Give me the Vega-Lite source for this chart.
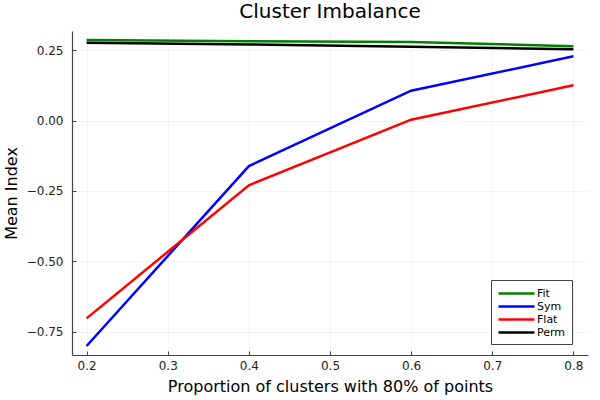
{
  "$schema": "https://vega.github.io/schema/vega-lite/v6.json",
  "autosize": {"type": "none"},
  "padding": {"left": 72, "top": 31, "right": 12, "bottom": 45},
  "width": 516,
  "height": 324,
  "background": "white",
  "title": {
    "text": "Cluster Imbalance",
    "font": "DejaVu Sans",
    "fontSize": 20,
    "fontWeight": "normal",
    "color": "black",
    "anchor": "middle",
    "offset": 9
  },
  "config": {
    "view": {"stroke": null},
    "axis": {
      "labelFont": "DejaVu Sans",
      "labelFontSize": 12,
      "labelColor": "#222",
      "titleFont": "DejaVu Sans",
      "titleFontSize": 16,
      "titleFontWeight": "normal",
      "titleColor": "black",
      "domainColor": "#444",
      "domainWidth": 1.2,
      "tickColor": "#444",
      "tickSize": -4,
      "gridColor": "#000",
      "gridOpacity": 0.08,
      "gridWidth": 0.6
    }
  },
  "data": {
    "values": [
      {"p": 0.2, "series": "Fit", "value": 0.286},
      {"p": 0.4, "series": "Fit", "value": 0.282},
      {"p": 0.6, "series": "Fit", "value": 0.279},
      {"p": 0.8, "series": "Fit", "value": 0.264},
      {"p": 0.2, "series": "Sym", "value": -0.801},
      {"p": 0.4, "series": "Sym", "value": -0.162},
      {"p": 0.6, "series": "Sym", "value": 0.106},
      {"p": 0.8, "series": "Sym", "value": 0.228},
      {"p": 0.2, "series": "Flat", "value": -0.703},
      {"p": 0.4, "series": "Flat", "value": -0.23},
      {"p": 0.6, "series": "Flat", "value": 0.003},
      {"p": 0.8, "series": "Flat", "value": 0.125},
      {"p": 0.2, "series": "Perm", "value": 0.276},
      {"p": 0.4, "series": "Perm", "value": 0.27},
      {"p": 0.6, "series": "Perm", "value": 0.262},
      {"p": 0.8, "series": "Perm", "value": 0.253}
    ]
  },
  "mark": {"type": "line", "strokeWidth": 2.5, "clip": true},
  "encoding": {
    "x": {
      "field": "p",
      "type": "quantitative",
      "title": "Proportion of clusters with 80% of points",
      "scale": {"domain": [0.182, 0.818], "nice": false, "zero": false},
      "axis": {"values": [0.2, 0.3, 0.4, 0.5, 0.6, 0.7, 0.8], "format": ".1f", "labelPadding": 9, "titlePadding": 7}
    },
    "y": {
      "field": "value",
      "type": "quantitative",
      "title": "Mean Index",
      "scale": {"domain": [-0.833, 0.318], "nice": false, "zero": false},
      "axis": {"values": [-0.75, -0.5, -0.25, 0, 0.25], "format": ".2f", "labelPadding": 13, "titlePadding": 7}
    },
    "color": {
      "field": "series",
      "type": "nominal",
      "sort": ["Fit", "Sym", "Flat", "Perm"],
      "scale": {"domain": ["Fit", "Sym", "Flat", "Perm"], "range": ["#008000", "#0000ff", "#ff0000", "#000000"]},
      "legend": {
        "title": null,
        "orient": "none",
        "legendX": 419,
        "legendY": 249,
        "symbolType": "M-1,0H5",
        "symbolSize": 144,
        "symbolStrokeWidth": 2.5,
        "labelFont": "DejaVu Sans",
        "labelFontSize": 11,
        "labelColor": "black",
        "rowPadding": 0,
        "labelOffset": 25,
        "strokeColor": "#444",
        "fillColor": "white",
        "padding": 6
      }
    }
  }
}
